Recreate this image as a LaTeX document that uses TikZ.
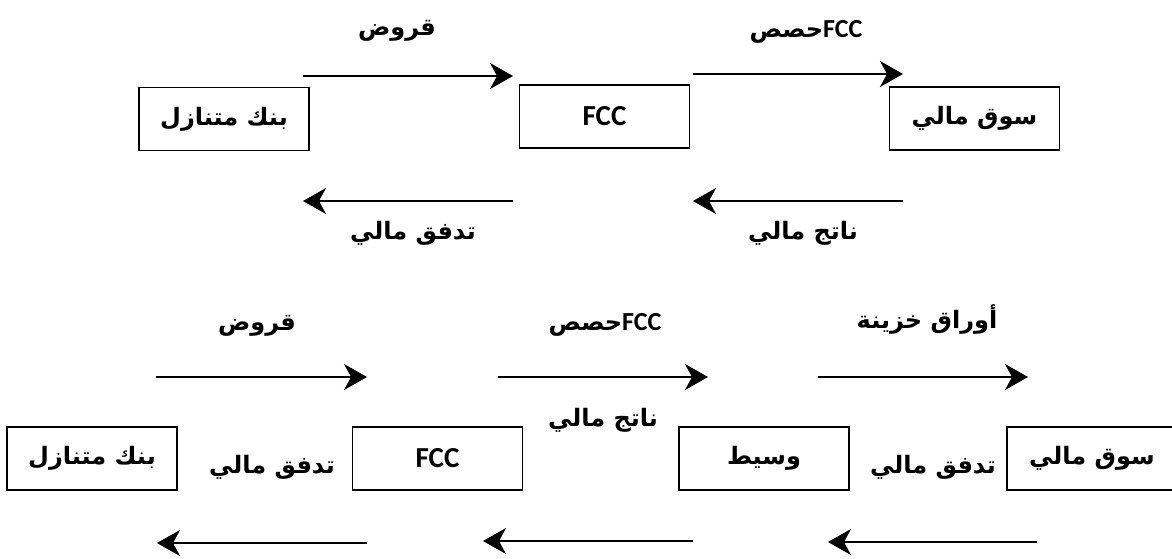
\documentclass[tikz,border=0pt]{standalone}
\usepackage{fontspec}
\setmainfont{Liberation Serif}
\newfontfamily\arabicfont[Script=Arabic]{DejaVu Sans}
\newfontfamily\latinfont{Carlito}
\TeXXeTstate=1
\usetikzlibrary{arrows.meta}
\newcommand{\ar}[1]{{\arabicfont\bfseries\beginR #1\endR}}
\newcommand{\fcc}{{\latinfont\bfseries FCC}}
\newcommand{\smallfcc}{{\fontsize{26}{30}\selectfont\latinfont\bfseries FCC}}
\begin{document}
\begin{tikzpicture}[x=1pt,y=-1pt,
  box/.style={draw, line width=1.6pt, minimum width=170pt, minimum height=63pt, inner sep=0pt,
    font=\fontsize{24}{28}\selectfont},
  fccbox/.style={box, font=\fontsize{29}{33}\selectfont},
  flow/.style={line width=1.5pt, -{Stealth[length=23pt, width=26pt, inset=7pt]}},
  lbl/.style={inner sep=0pt, font=\fontsize{24}{28}\selectfont}
]
\useasboundingbox[fill=white] (0,0) rectangle (1172,558);

% ---------- top diagram ----------
\node[box] (a1) at (224,119) {\ar{بنك متنازل}};
\node[fccbox] (a2) at (604.5,116.5) {\fcc};
\node[box] (a3) at (974.5,118.5) {\ar{سوق مالي}};

\coordinate (a12s) at (303,76);  \coordinate (a12e) at (513,76);
\coordinate (a23s) at (693,74);  \coordinate (a23e) at (903,74);
\coordinate (a21s) at (513,201); \coordinate (a21e) at (303,201);
\coordinate (a32s) at (903,201); \coordinate (a32e) at (693,201);

\draw[flow] (a12s) -- (a12e);
\draw[flow] (a23s) -- (a23e);
\draw[flow] (a21s) -- (a21e);
\draw[flow] (a32s) -- (a32e);

\node[lbl] (la12) at (397,31) {\ar{قروض}};
\node[lbl] (la23) at (806,32) {\ar{حصص}\smallfcc};
\node[lbl] (la21) at (413,233) {\ar{تدفق مالي}};
\node[lbl] (la32) at (803,233) {\ar{ناتج مالي}};

% ---------- bottom diagram ----------
\node[box] (b1) at (92,458.5) {\ar{بنك متنازل}};
\node[fccbox] (b2) at (437.5,458.5) {\fcc};
\node[box] (b3) at (764,458.5) {\ar{وسيط}};
\node[box] (b4) at (1092,458.5) {\ar{سوق مالي}};

\coordinate (b12s) at (156,377);  \coordinate (b12e) at (367,377);
\coordinate (b23s) at (498,377);  \coordinate (b23e) at (708,377);
\coordinate (b34s) at (818,377);  \coordinate (b34e) at (1028,377);
\coordinate (b21s) at (367,543);  \coordinate (b21e) at (157,543);
\coordinate (b32s) at (693,541);  \coordinate (b32e) at (483,541);
\coordinate (b43s) at (1037,542); \coordinate (b43e) at (828,542);

\draw[flow] (b12s) -- (b12e);
\draw[flow] (b23s) -- (b23e);
\draw[flow] (b34s) -- (b34e);
\draw[flow] (b21s) -- (b21e);
\draw[flow] (b32s) -- (b32e);
\draw[flow] (b43s) -- (b43e);

\node[lbl] (lb12) at (257,326) {\ar{قروض}};
\node[lbl] (lb23) at (605,325) {\ar{حصص}\smallfcc};
\node[lbl] (lb34) at (927,320) {\ar{أوراق خزينة}};
\node[lbl] (lbm1) at (272,467) {\ar{تدفق مالي}};
\node[lbl] (lbm2) at (603,420) {\ar{ناتج مالي}};
\node[lbl] (lbm3) at (933,467) {\ar{تدفق مالي}};
\end{tikzpicture}
\end{document}
